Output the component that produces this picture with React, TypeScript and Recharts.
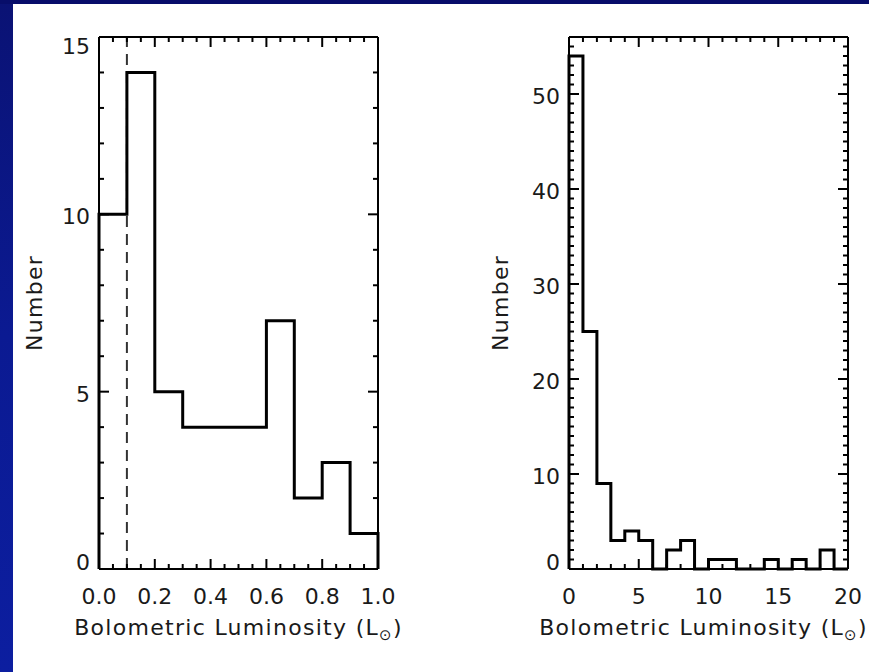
import React from 'react';
import { LineChart, Line, XAxis, YAxis, ReferenceLine, Label } from 'recharts';

// Faint sources: counts in 0.1 L☉ bins from 0 to 1
const lowEdges = [0.0, 0.1, 0.2, 0.3, 0.4, 0.5, 0.6, 0.7, 0.8, 0.9, 1.0];
const lowCounts = [10, 14, 5, 4, 4, 4, 7, 2, 3, 1];

// Full sample: counts in 1 L☉ bins from 0 to 20
const allEdges = [0, 1, 2, 3, 4, 5, 6, 7, 8, 9, 10, 11, 12, 13, 14, 15, 16, 17, 18, 19, 20];
const allCounts = [54, 25, 9, 3, 4, 3, 0, 2, 3, 0, 1, 1, 0, 0, 1, 0, 1, 0, 2, 0];

// Labelled (major) ticks
const lowXMajor = [0, 0.2, 0.4, 0.6, 0.8, 1.0];
const lowXLabels = ['0.0', '0.2', '0.4', '0.6', '0.8', '1.0'];
const lowYMajor = [0, 5, 10, 15];
const lowYLabels = ['0', '5', '10', '15'];
const allXMajor = [0, 5, 10, 15, 20];
const allXLabels = ['0', '5', '10', '15', '20'];
const allYMajor = [0, 10, 20, 30, 40, 50];
const allYLabels = ['0', '10', '20', '30', '40', '50'];

// Luminosity cut marked with a dashed line
const lowCut = 0.1;

const xTitle = 'Bolometric Luminosity (L';
const yTitle = 'Number';

const FONT = '"DejaVu Sans", sans-serif';
const INK = '#000';

const range = (start: number, end: number, step: number) => {
  const out: number[] = [];
  for (let v = start; v <= end + step / 2; v += step) out.push(Math.round(v * 1000) / 1000);
  return out;
};

// Histogram outline: rises from the baseline at the first edge, steps across
// every bin and falls back to the baseline at the last edge.
const stepRows = (edges: number[], counts: number[]) => {
  const last = edges[edges.length - 1];
  return [
    { x: edges[0], n: 0 },
    ...edges.map((e, i) => ({ x: e, n: counts[Math.min(i, counts.length - 1)] })),
    { x: last, n: 0 },
  ];
};

type Side = 'bottom' | 'top' | 'left' | 'right';

function AxisTick(props: any) {
  const { x, y, payload, side, majors, labels, domain } = props as {
    x: number; y: number; payload: { value: number }; side: Side;
    majors: number[]; labels: string[] | null; domain: [number, number];
  };
  const v = payload.value;
  const idx = majors.findIndex((m) => Math.abs(m - v) < 1e-6);
  const len = idx >= 0 ? 10 : 5;
  const label = labels && idx >= 0 ? labels[idx] : null;
  const textStyle = { fontFamily: FONT, fontSize: 22, fill: '#1a1a1a' } as const;
  if (side === 'bottom') {
    return (
      <g>
        <line x1={x} y1={y} x2={x} y2={y - len} stroke={INK} strokeWidth={2} />
        {label && (
          <text x={x} y={y + 35} textAnchor="middle" style={textStyle}>{label}</text>
        )}
      </g>
    );
  }
  if (side === 'top') {
    return <line x1={x} y1={y} x2={x} y2={y + len} stroke={INK} strokeWidth={2} />;
  }
  if (side === 'left') {
    let dy = 10;
    if (Math.abs(v - domain[0]) < 1e-6) dy = 1;
    else if (Math.abs(v - domain[1]) < 1e-6) dy = 17;
    return (
      <g>
        <line x1={x} y1={y} x2={x + len} y2={y} stroke={INK} strokeWidth={2} />
        {label && (
          <text x={x - 9} y={y + dy} textAnchor="end" style={textStyle}>{label}</text>
        )}
      </g>
    );
  }
  return <line x1={x} y1={y} x2={x - len} y2={y} stroke={INK} strokeWidth={2} />;
}

type PanelProps = {
  edges: number[];
  counts: number[];
  xDomain: [number, number];
  yDomain: [number, number];
  xStep: number;
  yStep: number;
  xMajor: number[];
  xLabels: string[];
  yMajor: number[];
  yLabels: string[];
  cut?: number;
  width: number;
  margin: { top: number; right: number; bottom: number; left: number };
  yTitleGap: number;
  xTitleShift: number;
};

function Histogram(p: PanelProps) {
  const rows = stepRows(p.edges, p.counts);
  const xTicks = range(p.xDomain[0], p.xDomain[1], p.xStep);
  const yTicks = range(p.yDomain[0], p.yDomain[1], p.yStep);
  const axisLine = { stroke: INK, strokeWidth: 2 };
  const titleStyle = { fontFamily: FONT, fontSize: 22, fill: '#1a1a1a', letterSpacing: 1.3 } as const;

  return (
    <LineChart width={p.width} height={672} data={rows} margin={p.margin}>
      <XAxis
        xAxisId="b"
        orientation="bottom"
        type="number"
        dataKey="x"
        domain={p.xDomain}
        ticks={xTicks}
        interval={0}
        height={1}
        tickSize={0}
        tickMargin={0}
        axisLine={axisLine}
        tickLine={false}
        tick={(tp: any) => (
          <AxisTick {...tp} side="bottom" majors={p.xMajor} labels={p.xLabels} domain={p.xDomain} />
        )}
      >
        <Label
          content={(lp: any) => {
            const vb = lp.viewBox;
            return (
              <text
                x={vb.x + vb.width / 2 + p.xTitleShift}
                y={vb.y + 66}
                textAnchor="middle"
                style={titleStyle}
              >
                {xTitle}
                <tspan fontSize={15} dy={5}>⊙</tspan>
                <tspan dy={-5}>)</tspan>
              </text>
            );
          }}
        />
      </XAxis>
      <XAxis
        xAxisId="t"
        orientation="top"
        type="number"
        dataKey="x"
        domain={p.xDomain}
        allowDataOverflow
        ticks={xTicks}
        interval={0}
        height={1}
        tickSize={0}
        tickMargin={0}
        axisLine={axisLine}
        tickLine={false}
        tick={(tp: any) => (
          <AxisTick {...tp} side="top" majors={p.xMajor} labels={null} domain={p.xDomain} />
        )}
      />
      <YAxis
        yAxisId="l"
        orientation="left"
        type="number"
        domain={p.yDomain}
        ticks={yTicks}
        interval={0}
        width={1}
        tickSize={0}
        tickMargin={0}
        axisLine={axisLine}
        tickLine={false}
        tick={(tp: any) => (
          <AxisTick {...tp} side="left" majors={p.yMajor} labels={p.yLabels} domain={p.yDomain} />
        )}
      >
        <Label
          content={(lp: any) => {
            const vb = lp.viewBox;
            const cx = vb.x + vb.width - p.yTitleGap;
            const cy = vb.y + vb.height / 2;
            return (
              <text
                x={cx}
                y={cy}
                transform={`rotate(-90 ${cx} ${cy})`}
                textAnchor="middle"
                style={titleStyle}
              >
                {yTitle}
              </text>
            );
          }}
        />
      </YAxis>
      <YAxis
        yAxisId="r"
        orientation="right"
        type="number"
        domain={p.yDomain}
        allowDataOverflow
        ticks={yTicks}
        interval={0}
        width={1}
        tickSize={0}
        tickMargin={0}
        axisLine={axisLine}
        tickLine={false}
        tick={(tp: any) => (
          <AxisTick {...tp} side="right" majors={p.yMajor} labels={null} domain={p.yDomain} />
        )}
      />
      {p.cut !== undefined && (
        <ReferenceLine
          x={p.cut}
          xAxisId="b"
          yAxisId="l"
          stroke="#333"
          strokeWidth={2}
          strokeDasharray="11 7"
        />
      )}
      <Line
        xAxisId="b"
        yAxisId="l"
        type="stepAfter"
        dataKey="n"
        stroke={INK}
        strokeWidth={3}
        dot={false}
        activeDot={false}
        isAnimationActive={false}
      />
    </LineChart>
  );
}

export default function App() {
  return (
    <div
      style={{
        position: 'absolute',
        left: 0,
        top: 0,
        width: 869,
        height: 672,
        background: '#fff',
        overflow: 'hidden',
      }}
    >
      <div
        style={{
          position: 'absolute',
          left: 0,
          top: 0,
          width: 13,
          height: 672,
          background: 'linear-gradient(to bottom, #0a1274 0%, #0b1a92 50%, #0c1ea0 100%)',
        }}
      />
      <div style={{ position: 'absolute', left: 0, top: 0, width: 869, height: 4, background: '#070d6a' }} />
      <div style={{ position: 'absolute', left: 0, top: 0 }}>
        <Histogram
          edges={lowEdges}
          counts={lowCounts}
          xDomain={[0, 1]}
          yDomain={[0, 15]}
          xStep={0.05}
          yStep={1}
          xMajor={lowXMajor}
          xLabels={lowXLabels}
          yMajor={lowYMajor}
          yLabels={lowYLabels}
          cut={lowCut}
          width={440}
          margin={{ top: 36, right: 61, bottom: 102, left: 98 }}
          yTitleGap={57}
          xTitleShift={0}
        />
      </div>
      <div style={{ position: 'absolute', left: 440, top: 0 }}>
        <Histogram
          edges={allEdges}
          counts={allCounts}
          xDomain={[0, 20]}
          yDomain={[0, 56]}
          xStep={1}
          yStep={1}
          xMajor={allXMajor}
          xLabels={allXLabels}
          yMajor={allYMajor}
          yLabels={allYLabels}
          width={429}
          margin={{ top: 36, right: 20, bottom: 102, left: 128 }}
          yTitleGap={61}
          xTitleShift={-5}
        />
      </div>
    </div>
  );
}
